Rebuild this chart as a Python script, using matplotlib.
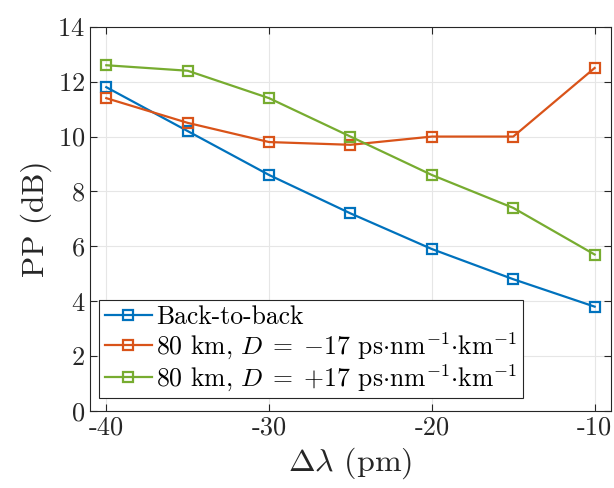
import matplotlib
matplotlib.use('Agg')
import matplotlib.pyplot as plt

# wavelength offset (pm)
dlam = [-40, -35, -30, -25, -20, -15, -10]
pp_b2b = [11.8, 10.2, 8.6, 7.2, 5.9, 4.8, 3.8]
pp_neg = [11.4, 10.5, 9.8, 9.7, 10.0, 10.0, 12.5]
pp_pos = [12.6, 12.4, 11.4, 10.0, 8.6, 7.4, 5.7]

labels = ['Back-to-back',
          r'80 km, $D\;=\;{-17}$ ps$\cdot$nm$^{-1}$$\cdot$km$^{-1}$',
          r'80 km, $D\;=\;{+17}$ ps$\cdot$nm$^{-1}$$\cdot$km$^{-1}$']
colors = ['#0072BD', '#D95319', '#77AC30']

plt.rcParams['font.family'] = ['cmr10', 'DejaVu Serif']
plt.rcParams['mathtext.fontset'] = 'cm'
plt.rcParams['axes.unicode_minus'] = False
plt.rcParams['axes.formatter.use_mathtext'] = True

fig = plt.figure(figsize=(6.14, 4.88), dpi=100)
ax = fig.add_axes([0.1466, 0.158, 0.8484, 0.787])

for y, c, lab in zip([pp_b2b, pp_neg, pp_pos], colors, labels):
    ax.plot(dlam, y, '-s', color=c, lw=1.6, ms=7, mfc='none', mew=1.6, label=lab)

ax.set_xlim(-41, -9)
ax.set_ylim(0, 14)
ax.set_xticks([-40, -30, -20, -10])
ax.set_xticklabels(['-40', '-30', '-20', '-10'])
ax.set_yticks(range(0, 15, 2))
ax.tick_params(direction='in', top=True, right=True, labelsize=19, colors='#262626',
               length=5, width=0.8)
ax.grid(True, color='#e6e6e6', lw=0.8)
ax.set_axisbelow(True)
for s in ax.spines.values():
    s.set_color('#262626')
    s.set_linewidth(0.8)

ax.set_xlabel(r'$\Delta\lambda$ (pm)', fontsize=23, color='#262626')
ax.set_ylabel('PP (dB)', fontsize=22.5, color='#262626')

leg = ax.legend(loc='lower left', bbox_to_anchor=(0.018, 0.033), fontsize=18.5,
                fancybox=False, framealpha=1, edgecolor='#262626',
                handlelength=1.85, handletextpad=0.15, borderpad=0.2,
                labelspacing=0.05, borderaxespad=0)
leg.get_frame().set_linewidth(0.8)

fig.savefig('out.png', dpi=100)
